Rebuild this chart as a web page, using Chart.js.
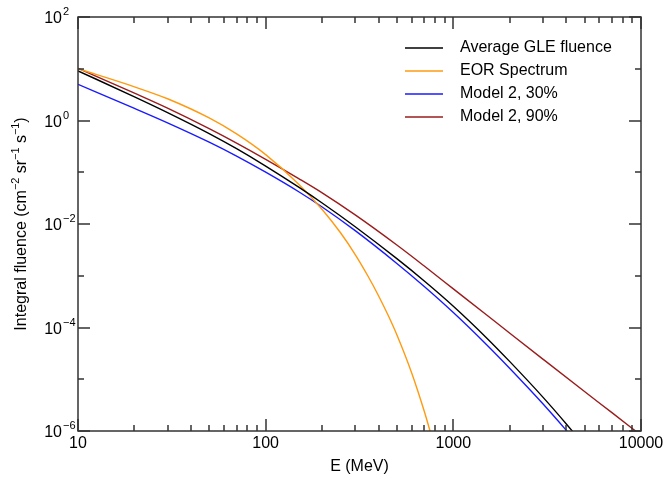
<!DOCTYPE html>
<html>
<head>
<meta charset="utf-8">
<script src="https://cdn.jsdelivr.net/npm/chart.js@4.4.1/dist/chart.umd.min.js"></script>
<style>
  html, body { margin: 0; padding: 0; background: #fff; }
  #wrap { width: 667px; height: 478px; }
</style>
</head>
<body>
<div id="wrap"><canvas id="fluenceChart" width="667" height="478"></canvas></div>
<script>
// values (E in MeV, integral fluence), lightly smoothed by eye
const gleEnergy  = [10, 20, 30, 50, 70, 100, 150, 200, 300, 500, 700, 1000, 1500, 2000, 3000, 4000, 5000];
const gleFluence = [9.1, 2.86, 1.42, 0.558, 0.285, 0.1315, 0.0514, 0.0254, 8.85e-3, 2.14e-3, 7.93e-4, 2.58e-4, 6.37e-5, 2.19e-5, 4.52e-6, 1.37e-6, 5.18e-7];

const eorEnergy  = [10, 20, 30, 50, 70, 100, 150, 200, 250, 300, 350, 400, 450, 500, 600, 700, 750, 800];
const eorFluence = [10.0, 4.47, 2.63, 1.12, 0.55, 0.219, 0.0589, 0.0191, 6.84e-3, 2.57e-3, 1.0e-3, 4.07e-4, 1.70e-4, 7.24e-5, 1.32e-5, 2.40e-6, 1.02e-6, 4.4e-7];

const m30Energy  = [10, 20, 30, 50, 70, 100, 150, 200, 300, 500, 700, 1000, 1500, 2000, 3000, 4000, 5000];
const m30Fluence = [5.0, 1.71, 0.90, 0.381, 0.205, 0.1002, 0.0420, 0.0213, 7.43e-3, 1.73e-3, 6.21e-4, 1.95e-4, 4.71e-5, 1.62e-5, 3.37e-6, 1.03e-6, 3.95e-7];

const m90Energy  = [10, 20, 30, 50, 70, 100, 150, 200, 300, 500, 700, 1000, 1500, 2000, 3000, 5000, 7000, 10000];
const m90Fluence = [10.2, 3.37, 1.73, 0.695, 0.365, 0.1774, 0.0752, 0.0399, 0.01496, 3.92e-3, 1.54e-3, 5.58e-4, 1.76e-4, 7.74e-5, 2.45e-5, 5.79e-6, 2.26e-6, 8.3e-7];

const seriesLabels = ["Average GLE fluence", "EOR Spectrum", "Model 2, 30%", "Model 2, 90%"];
const seriesColors = ["#000000", "#ff9a10", "#1a1aff", "#9a1c1c"];

const xTickLabels = ["10", "100", "1000", "10000"];
const yTickExponents = ["2", "0", "\u22122", "\u22124", "\u22126"];
const xTitle = "E (MeV)";
// [text, isSuperscript]
const yTitleParts = [["Integral fluence (cm", 0], ["\u22122", 1], [" sr", 0], ["\u22121", 1], [" s", 0], ["\u22121", 1], [")", 0]];

const FONT = '"Liberation Sans", Arial, Helvetica, sans-serif';

function toPoints(es, fs) {
    return es.map((e, i) => ({ x: e, y: fs[i] }));
}

function drawMixed(ctx, parts, x, y, size, align) {
    let total = 0;
    parts.forEach(([t, sup]) => {
        ctx.font = (sup ? size * 0.68 : size) + "px " + FONT;
        total += ctx.measureText(t).width;
    });
    let cx = align === "center" ? x - total / 2 : x;
    ctx.textAlign = "left";
    ctx.textBaseline = "alphabetic";
    parts.forEach(([t, sup]) => {
        ctx.font = (sup ? size * 0.68 : size) + "px " + FONT;
        ctx.fillText(t, cx, sup ? y - size * 0.45 : y);
        cx += ctx.measureText(t).width;
    });
}

const framePlugin = {
    id: "frame",
    afterDraw(chart) {
        const { ctx, chartArea: a, scales: { x, y } } = chart;
        ctx.save();
        ctx.strokeStyle = "#333";
        ctx.lineWidth = 1.5;
        ctx.beginPath();
        for (let p = -6; p <= 2; p++) {
            const py = Math.round(y.getPixelForValue(Math.pow(10, p)));
            const len = p % 2 === 0 ? 12 : 6;
            ctx.moveTo(a.left, py); ctx.lineTo(a.left + len, py);
            ctx.moveTo(a.right, py); ctx.lineTo(a.right - len, py);
        }
        for (let d = 1; d <= 4; d++) {
            for (let m = 1; m <= 9; m++) {
                const v = m * Math.pow(10, d);
                if (v > 10000) break;
                const px = Math.round(x.getPixelForValue(v));
                const len = m === 1 ? 12 : 6;
                ctx.moveTo(px, a.bottom); ctx.lineTo(px, a.bottom - len);
                ctx.moveTo(px, a.top); ctx.lineTo(px, a.top + len);
            }
        }
        ctx.stroke();
        ctx.strokeRect(a.left, a.top, a.right - a.left, a.bottom - a.top);

        ctx.fillStyle = "#000";
        // x tick labels
        ctx.font = "16px " + FONT;
        ctx.textAlign = "center";
        ctx.textBaseline = "middle";
        xTickLabels.forEach(lbl => {
            ctx.fillText(lbl, x.getPixelForValue(Number(lbl)), a.bottom + 13);
        });
        ctx.fillText(xTitle, (a.left + a.right) / 2, a.bottom + 36);

        // y tick labels: 10 with superscript exponent
        yTickExponents.forEach(ex => {
            const py = y.getPixelForValue(Math.pow(10, Number(ex.replace("\u2212", "-"))));
            ctx.font = "16px " + FONT;
            ctx.textAlign = "right";
            ctx.textBaseline = "alphabetic";
            ctx.fillText("10", a.left - 16, py + 6);
            ctx.font = "11px " + FONT;
            ctx.textAlign = "left";
            ctx.fillText(ex, a.left - 15, py - 2);
        });

        // y title
        ctx.save();
        ctx.translate(26, (a.top + a.bottom) / 2);
        ctx.rotate(-Math.PI / 2);
        drawMixed(ctx, yTitleParts, 0, 0, 16, "center");
        ctx.restore();

        // legend
        chart.data.datasets.forEach((ds, i) => {
            const ly = 48 + i * 23;
            ctx.strokeStyle = ds.borderColor;
            ctx.lineWidth = 1.4;
            ctx.beginPath();
            ctx.moveTo(405, ly); ctx.lineTo(443, ly);
            ctx.stroke();
            ctx.font = "16px " + FONT;
            ctx.textAlign = "left";
            ctx.textBaseline = "middle";
            ctx.fillText(ds.label, 460, ly);
        });
        ctx.restore();
    }
};

const series = [
    toPoints(gleEnergy, gleFluence),
    toPoints(eorEnergy, eorFluence),
    toPoints(m30Energy, m30Fluence),
    toPoints(m90Energy, m90Fluence)
];

new Chart(document.getElementById("fluenceChart").getContext("2d"), {
    type: "line",
    data: {
        datasets: series.map((pts, i) => ({
            label: seriesLabels[i],
            data: pts,
            borderColor: seriesColors[i],
            borderWidth: 1.4,
            pointRadius: 0,
            fill: false,
            cubicInterpolationMode: "monotone"
        }))
    },
    options: {
        responsive: false,
        animation: false,
        layout: { padding: { left: 0, right: 26, top: 17, bottom: 0 } },
        plugins: { legend: { display: false }, tooltip: { enabled: false } },
        scales: {
            x: {
                type: "logarithmic", min: 10, max: 10000,
                grid: { display: false }, border: { display: false },
                ticks: { display: false },
                afterFit: s => { s.height = 47; }
            },
            y: {
                type: "logarithmic", min: 1e-6, max: 100,
                grid: { display: false }, border: { display: false },
                ticks: { display: false },
                afterFit: s => { s.width = 78; }
            }
        }
    },
    plugins: [framePlugin]
});
</script>
</body>
</html>
